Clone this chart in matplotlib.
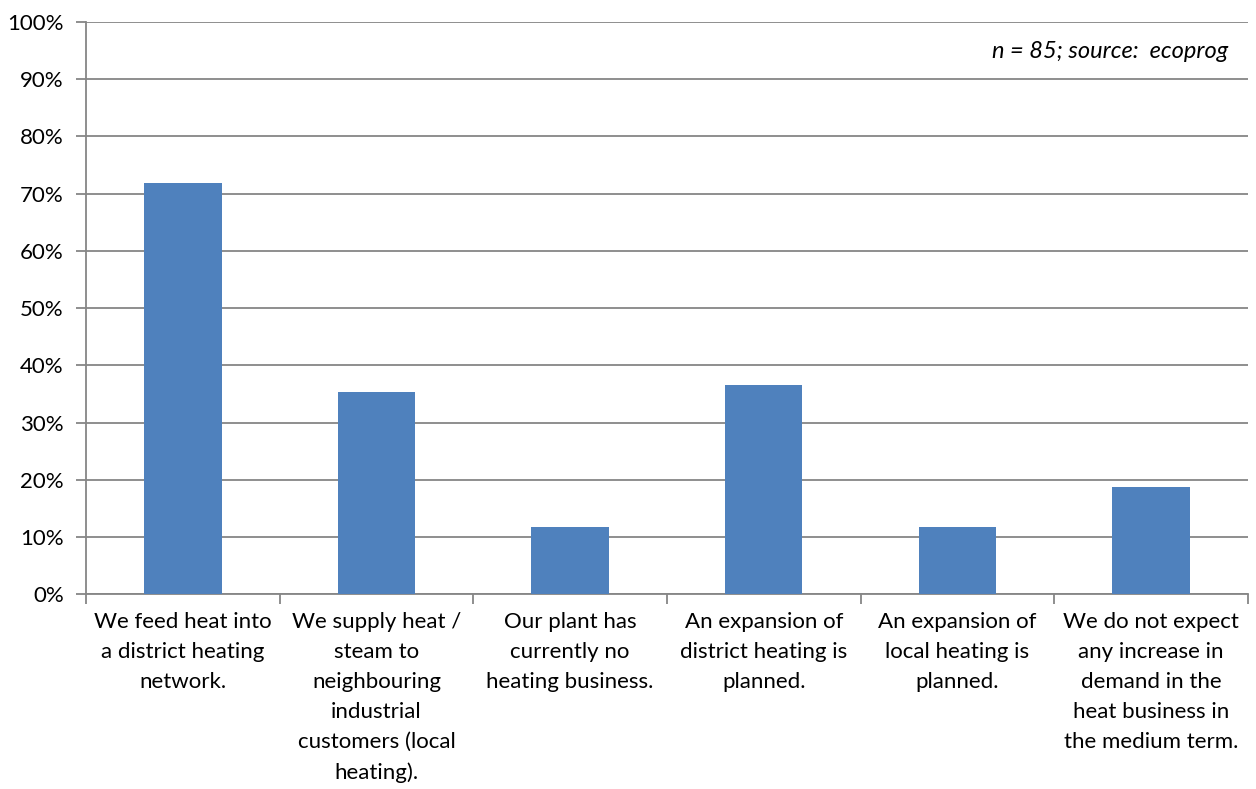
import matplotlib
matplotlib.use('Agg')
import matplotlib.pyplot as plt
import numpy as np

labels = ['We feed heat into\na district heating\nnetwork.',
          'We supply heat /\nsteam to\nneighbouring\nindustrial\ncustomers (local\nheating).',
          'Our plant has\ncurrently no\nheating business.',
          'An expansion of\ndistrict heating is\nplanned.',
          'An expansion of\nlocal heating is\nplanned.',
          'We do not expect\nany increase in\ndemand in the\nheat business in\nthe medium term.']
values = [71.8, 35.3, 11.8, 36.5, 11.8, 18.8]
yticks = list(range(0, 101, 10))

plt.rcParams['font.family'] = ['Lato', 'DejaVu Sans']
grey = '#868686'

fig = plt.figure(figsize=(12.56, 7.89), dpi=100)
ax = fig.add_axes([0.0685, 0.247, 0.925, 0.725])

x = np.arange(len(values))
ax.bar(x, values, width=0.4, color='#4F81BD', zorder=3)

ax.set_xlim(-0.5, len(values) - 0.5)
ax.set_ylim(0, 100)
ax.set_yticks(yticks)
ax.set_yticklabels([f'{t}%' for t in yticks], fontsize=16)
ax.yaxis.grid(True, color=grey, linewidth=1.3, zorder=0)
ax.tick_params(axis='y', length=7, color=grey, width=1.3, pad=9)

# category boundaries as ticks, labels centred between them
ax.set_xticks(np.arange(-0.5, len(values), 1.0))
ax.set_xticklabels([])
ax.set_xticks(x, minor=True)
ax.set_xticklabels(labels, minor=True, fontsize=16, linespacing=1.62, va='top')
ax.tick_params(axis='x', which='minor', length=0, pad=13)
ax.tick_params(axis='x', which='major', length=7, color=grey, width=1.3)

for s in ['top', 'right']:
    ax.spines[s].set_visible(False)
for s in ['left', 'bottom']:
    ax.spines[s].set_color(grey)
    ax.spines[s].set_linewidth(1.3)

ax.text(0.983, 0.949, 'n = 85; source:  ecoprog', transform=ax.transAxes,
        ha='right', va='center', fontsize=17, style='italic')

fig.savefig('out.png', dpi=100)
